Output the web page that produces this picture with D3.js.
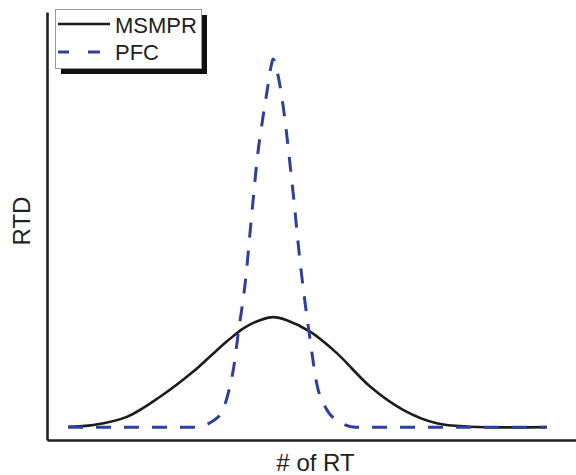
<!DOCTYPE html>
<html>
<head>
<meta charset="utf-8">
<script src="https://cdn.jsdelivr.net/npm/d3@7"></script>
<style>
  html, body { margin: 0; padding: 0; background: #fff; }
  svg { display: block; }
</style>
</head>
<body>
<svg id="chart" width="576" height="475"></svg>
<script>
// Dimensionless time (θ = t/τ) and residence time distribution values
const msmprTheta = [0.094, 0.205, 0.353, 0.500, 0.647, 0.721, 0.795, 0.869, 0.942, 1.001,
                    1.061, 1.164, 1.282, 1.429, 1.577, 1.724, 1.872, 2.211];
const msmprRTD   = [0.031, 0.035, 0.054, 0.101, 0.160, 0.195, 0.230, 0.261, 0.280, 0.287,
                    0.280, 0.253, 0.203, 0.125, 0.070, 0.039, 0.031, 0.030];

const pfcTheta = [0.093, 0.655, 0.758, 0.802, 0.829, 0.846, 0.861, 0.880, 0.898, 0.916,
                  0.929, 0.949, 0.972, 0.994, 1.000, 1.023, 1.051, 1.073, 1.092, 1.108,
                  1.122, 1.142, 1.164, 1.193, 1.230, 1.304, 1.363, 2.211];
const pfcRTD   = [0.030, 0.030, 0.054, 0.110, 0.180, 0.250, 0.304, 0.382, 0.484, 0.584,
                  0.654, 0.732, 0.810, 0.880, 0.890, 0.849, 0.755, 0.654, 0.561, 0.475,
                  0.405, 0.319, 0.234, 0.132, 0.078, 0.039, 0.030, 0.030];

const seriesNames = ["MSMPR", "PFC"];
const axisTitles = { x: "# of RT", y: "RTD" };

const svg = d3.select("#chart");
const plot = { left: 47, right: 576, top: 12, bottom: 440 };

const x = d3.scaleLinear().domain([0, 2.34]).range([plot.left, plot.right]);
const y = d3.scaleLinear().domain([0, 1]).range([plot.bottom, plot.top]);

// Smooth spline for the broad curve, monotone for the sharp peak with flat tails
const smoothLine = d3.line()
  .x(d => x(d[0]))
  .y(d => y(d[1]))
  .curve(d3.curveCatmullRom.alpha(0.5));

const line = d3.line()
  .x(d => x(d[0]))
  .y(d => y(d[1]))
  .curve(d3.curveMonotoneX);

const msmpr = msmprTheta.map((t, i) => [t, msmprRTD[i]]);
const pfc = pfcTheta.map((t, i) => [t, pfcRTD[i]]);

// Curves
svg.append("path")
  .datum(msmpr)
  .attr("d", smoothLine)
  .attr("fill", "none")
  .attr("stroke", "#1c1c1c")
  .attr("stroke-width", 2.6);

svg.append("path")
  .datum(pfc)
  .attr("d", line)
  .attr("fill", "none")
  .attr("stroke", "#2e3f9c")
  .attr("stroke-width", 3)
  .attr("stroke-dasharray", "15,13");

// Axis frame: left and bottom lines, no ticks
const xAxis = d3.axisBottom(x).tickValues([]).tickSizeOuter(0);
const yAxis = d3.axisLeft(y).tickValues([]).tickSizeOuter(0);

svg.append("g")
  .attr("transform", `translate(0,${plot.bottom})`)
  .call(xAxis)
  .call(g => g.select(".domain").attr("stroke", "#222").attr("stroke-width", 2.6));

svg.append("g")
  .attr("transform", `translate(${plot.left},0)`)
  .call(yAxis)
  .call(g => g.select(".domain").attr("stroke", "#222").attr("stroke-width", 2.6));

// Axis titles
svg.append("text")
  .attr("x", (plot.left + plot.right) / 2 + 4)
  .attr("y", 471)
  .attr("text-anchor", "middle")
  .attr("font-family", "Liberation Sans, Arial, sans-serif")
  .attr("font-size", 24)
  .attr("fill", "#222")
  .text(axisTitles.x);

svg.append("text")
  .attr("transform", "translate(30,221) rotate(-90)")
  .attr("text-anchor", "middle")
  .attr("font-family", "Liberation Sans, Arial, sans-serif")
  .attr("font-size", 24)
  .attr("fill", "#222")
  .text(axisTitles.y);

// Legend with drop shadow
const lg = svg.append("g");
lg.append("rect")
  .attr("x", 61).attr("y", 15).attr("width", 146).attr("height", 59)
  .attr("fill", "#111");
lg.append("rect")
  .attr("x", 55.5).attr("y", 9.5).attr("width", 146).attr("height", 59)
  .attr("fill", "#fff")
  .attr("stroke", "#999")
  .attr("stroke-width", 1);

lg.append("line")
  .attr("x1", 58).attr("x2", 110).attr("y1", 24).attr("y2", 24)
  .attr("stroke", "#1c1c1c").attr("stroke-width", 2.6);
lg.append("line")
  .attr("x1", 58).attr("x2", 101).attr("y1", 52).attr("y2", 52)
  .attr("stroke", "#2e3f9c").attr("stroke-width", 3)
  .attr("stroke-dasharray", "11,19,12");

lg.selectAll("text.legend")
  .data(seriesNames)
  .join("text")
  .attr("class", "legend")
  .attr("x", 115)
  .attr("y", (d, i) => 33 + i * 27)
  .attr("font-family", "Liberation Sans, Arial, sans-serif")
  .attr("font-size", 22)
  .attr("fill", "#222")
  .text(d => d);
</script>
</body>
</html>
